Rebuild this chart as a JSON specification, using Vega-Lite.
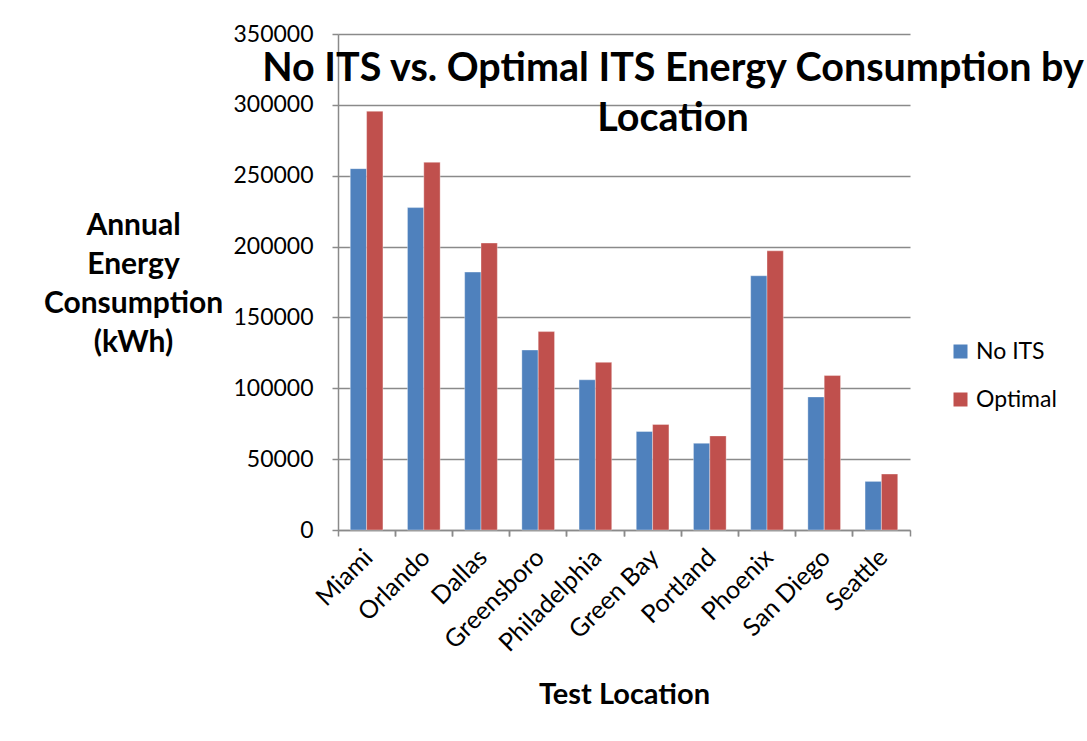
{
  "$schema": "https://vega.github.io/schema/vega-lite/v6.json",
  "autosize": {"type": "none"},
  "width": 572,
  "height": 496,
  "padding": {"left": 338, "top": 34, "right": 177, "bottom": 211},
  "background": "white",
  "title": {
    "text": ["No ITS vs. Optimal ITS Energy Consumption by", "Location"],
    "font": "Lato",
    "fontSize": 39.5,
    "fontWeight": "bold",
    "color": "black",
    "anchor": "middle",
    "frame": "group",
    "orient": "top",
    "offset": -28,
    "dx": 49,
    "dy": 88,
    "lineHeight": 50
  },
  "data": {
    "values": [
      {"Location": "Miami", "Scenario": "No ITS", "Energy": 255000},
      {"Location": "Miami", "Scenario": "Optimal", "Energy": 295500},
      {"Location": "Orlando", "Scenario": "No ITS", "Energy": 227500},
      {"Location": "Orlando", "Scenario": "Optimal", "Energy": 259500},
      {"Location": "Dallas", "Scenario": "No ITS", "Energy": 182000},
      {"Location": "Dallas", "Scenario": "Optimal", "Energy": 202500},
      {"Location": "Greensboro", "Scenario": "No ITS", "Energy": 127000},
      {"Location": "Greensboro", "Scenario": "Optimal", "Energy": 140000},
      {"Location": "Philadelphia", "Scenario": "No ITS", "Energy": 106000},
      {"Location": "Philadelphia", "Scenario": "Optimal", "Energy": 118300},
      {"Location": "Green Bay", "Scenario": "No ITS", "Energy": 69500},
      {"Location": "Green Bay", "Scenario": "Optimal", "Energy": 74500},
      {"Location": "Portland", "Scenario": "No ITS", "Energy": 61200},
      {"Location": "Portland", "Scenario": "Optimal", "Energy": 66400},
      {"Location": "Phoenix", "Scenario": "No ITS", "Energy": 179400},
      {"Location": "Phoenix", "Scenario": "Optimal", "Energy": 197000},
      {"Location": "San Diego", "Scenario": "No ITS", "Energy": 93900},
      {"Location": "San Diego", "Scenario": "Optimal", "Energy": 109000},
      {"Location": "Seattle", "Scenario": "No ITS", "Energy": 34300},
      {"Location": "Seattle", "Scenario": "Optimal", "Energy": 39500}
    ]
  },
  "layer": [
    {
      "mark": {"type": "bar", "stroke": "white", "strokeOpacity": 0.35, "strokeWidth": 1},
      "encoding": {
        "x": {
          "field": "Location",
          "type": "nominal",
          "sort": null,
          "scale": {"paddingInner": 0, "paddingOuter": 0},
          "axis": {
            "orient": "bottom",
            "title": "Test Location",
            "titleFont": "Lato",
            "titleFontSize": 29,
            "titleFontWeight": "bold",
            "titleColor": "black",
            "titlePadding": 24,
            "labelFont": "Lato",
            "labelFontSize": 25,
            "labelColor": "black",
            "labelAngle": -45,
            "labelAlign": "right",
            "labelBaseline": "middle",
            "labelPadding": 17,
            "bandPosition": 0,
            "labelOffset": 2,
            "tickSize": 6,
            "tickColor": "#8a8a8a",
            "domainColor": "#8a8a8a",
            "domainWidth": 1.5,
            "tickWidth": 1.5,
            "grid": false
          }
        },
        "xOffset": {
          "field": "Scenario",
          "type": "nominal",
          "scale": {"paddingInner": 0, "paddingOuter": 0.75}
        },
        "y": {
          "field": "Energy",
          "type": "quantitative",
          "scale": {"domain": [0, 350000], "nice": false},
          "axis": {
            "values": [0, 50000, 100000, 150000, 200000, 250000, 300000, 350000],
            "format": "d",
            "title": ["Annual", "Energy", "Consumption", "(kWh)"],
            "titleFont": "Lato",
            "titleFontSize": 30,
            "titleFontWeight": "bold",
            "titleColor": "black",
            "titleAngle": 0,
            "titleAlign": "center",
            "titleBaseline": "middle",
            "titleLineHeight": 39,
            "titleX": -205,
            "titleY": 191,
            "labelFont": "Lato",
            "labelFontSize": 23,
            "labelColor": "black",
            "labelPadding": 19,
            "tickSize": 6,
            "tickColor": "#8a8a8a",
            "tickWidth": 1.5,
            "domainColor": "#8a8a8a",
            "domainWidth": 1.5,
            "grid": true,
            "gridColor": "#8a8a8a",
            "gridWidth": 1.5
          }
        },
        "color": {
          "field": "Scenario",
          "type": "nominal",
          "scale": {"domain": ["No ITS", "Optimal"], "range": ["#4F81BD", "#C0504D"]},
          "legend": {
            "title": null,
            "orient": "none",
            "legendX": 611,
            "legendY": 306,
            "symbolType": "square",
            "symbolSize": 196,
            "symbolStrokeWidth": 0,
            "labelFont": "Lato",
            "labelFontSize": 23,
            "labelColor": "black",
            "labelOffset": 4,
            "rowPadding": 24
          }
        }
      }
    },
    {
      "mark": {"type": "bar", "opacity": 0},
      "encoding": {
        "x": {
          "field": "Location",
          "type": "nominal",
          "sort": null,
          "axis": {
            "orient": "bottom",
            "title": null,
            "labels": false,
            "domain": false,
            "bandPosition": 1,
            "tickSize": 6,
            "tickColor": "#8a8a8a",
            "tickWidth": 1.5,
            "grid": false
          }
        }
      }
    }
  ],
  "resolve": {"axis": {"x": "independent"}},
  "config": {
    "view": {"stroke": null}
  }
}
